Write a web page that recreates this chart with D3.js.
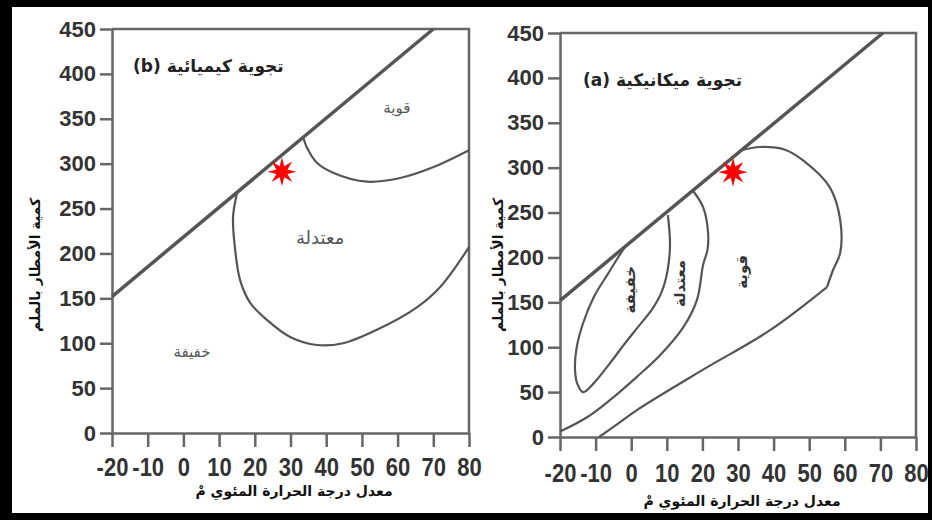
<!DOCTYPE html>
<html>
<head>
<meta charset="utf-8">
<script src="https://cdn.jsdelivr.net/npm/d3@7"></script>
<style>
  body { margin: 0; background: #fff; }
  .axis path, .axis line { stroke: #666; stroke-width: 2.5; }
  .axis text { font-family: "Liberation Sans", Arial, sans-serif; font-weight: bold; fill: #333; }
  .frame { stroke: #666; stroke-width: 2.5; fill: none; }
  .curve { fill: none; stroke: #555; stroke-width: 2.2; }
  .limit { fill: none; stroke: #555; stroke-width: 3.5; }
  .ar { font-family: "DejaVu Sans", sans-serif; }
</style>
</head>
<body>
<div id="chart"></div>
<script>
// axis ticks
var tempTicks = [-20, -10, 0, 10, 20, 30, 40, 50, 60, 70, 80];
var rainTicks = [0, 50, 100, 150, 200, 250, 300, 350, 400, 450];

// text
var xTitle = "معدل درجة الحرارة المئوي مْ";
var yTitle = "كمية الأمطار بالملم";
var chemTitle = "(b) تجوية كيميائية";
var mechTitle = "(a) تجوية ميكانيكية";

// (b) chemical weathering : [temp, rain]
var chemLimit = [[-20, 152], [70, 450]];
var chemStrong = [[33.5, 330], [34.6, 318], [37.4, 301], [41.9, 290], [51.4, 280], [60.7, 284], [69.9, 296], [80, 315]];
var chemModerate = [[15, 267], [13.9, 240], [14.5, 204], [15.9, 170], [18.7, 145], [23.4, 126], [29.9, 107], [37.4, 98],
                    [44.7, 100], [54.2, 115], [65.4, 140], [72, 163], [80, 207]];
var chemStar = [27.6, 291];
var chemLabels = [
  {name: "قوية", t: 59.8, r: 362, size: 15, rot: 0},
  {name: "معتدلة", t: 38.3, r: 217, size: 18, rot: 0},
  {name: "خفيفة", t: 2.4, r: 90, size: 15, rot: 0}
];

// (a) mechanical weathering
var mechLimit = [[-20, 152], [70.7, 450]];
var mechLight = [[-1.7, 212], [-4, 198], [-6.5, 182], [-10.5, 156], [-13.5, 127], [-15.3, 100], [-15.8, 78], [-15.2, 60], [-13.5, 50],
                 [-10.5, 60], [-6, 82], [-2, 103], [2, 123], [6, 143], [8.5, 161], [10.2, 185], [10.9, 215], [10.3, 247]];
var mechModerate = [[17.4, 274], [20.2, 256], [21.6, 227], [21.4, 208], [20.2, 192], [18.5, 153], [14.6, 122],
                    [8.1, 91], [1.6, 67], [-6, 41], [-12.4, 22], [-20, 6]];
var mechStrongArc = [[30.6, 319], [36.2, 323], [43.2, 320], [48.3, 308], [55.8, 278], [58.7, 242], [58.7, 205], [56.7, 186], [55, 167]];
var mechStrongTail = [[55, 167], [39, 119], [20.2, 75], [1.6, 30], [-4, 14], [-9, 0]];
var mechStar = [28.6, 295];
var mechLabels = [
  {name: "خفيفة", t: -0.3, r: 164, size: 15, rot: -90},
  {name: "معتدلة", t: 13.7, r: 171, size: 15, rot: -90},
  {name: "قوية", t: 31.1, r: 184, size: 15, rot: -90}
];

var W = 932, H = 520;

var svg = d3.select("#chart").append("svg")
  .attr("width", W)
  .attr("height", H);

// black outer frame
svg.append("rect").attr("width", W).attr("height", H).attr("fill", "#000");
svg.append("rect").attr("x", 12).attr("y", 7).attr("width", W - 16).attr("height", H - 14).attr("fill", "#fff");

var panels = [
  {x0: 112, x1: 469, y0: 433, y1: 29, xPad: 11, title: chemTitle, titleX: 133, titleY: 72, yTitleX: 40, xTitleX: 294, xTitleY: 496,
   limit: chemLimit, curves: [chemStrong, chemModerate], star: chemStar, labels: chemLabels, labelFill: "#555", labelWeight: "normal"},
  {x0: 560, x1: 916, y0: 437, y1: 33, xPad: 13, title: mechTitle, titleX: 583, titleY: 86, yTitleX: 503, xTitleX: 742, xTitleY: 506,
   limit: mechLimit, curves: [mechLight, mechModerate, mechStrongArc, mechStrongTail], star: mechStar, labels: mechLabels, labelFill: "#333", labelWeight: "bold"}
];

var starShape = d3.lineRadial().curve(d3.curveLinearClosed);
var starPts = d3.range(16).map(function(i) {
  return [i * Math.PI / 8, i % 2 ? 6 : 14.5];
});

panels.forEach(function(p) {
  var x = d3.scaleLinear().domain([-20, 80]).range([p.x0, p.x1]);
  var y = d3.scaleLinear().domain([0, 450]).range([p.y0, p.y1]);
  var g = svg.append("g");

  // frame top + right
  g.append("path").attr("class", "frame")
    .attr("d", "M" + p.x0 + "," + p.y1 + "H" + p.x1 + "V" + p.y0);

  g.append("g").attr("class", "axis")
    .attr("transform", "translate(" + p.x0 + ",0)")
    .call(d3.axisLeft(y).tickValues(rainTicks).tickSize(12).tickSizeOuter(0).tickPadding(4))
    .selectAll("text").style("font-size", "22px");

  g.append("g").attr("class", "axis")
    .attr("transform", "translate(0," + p.y0 + ")")
    .call(d3.axisBottom(x).tickValues(tempTicks).tickSize(14).tickSizeOuter(0).tickPadding(p.xPad)
      .tickFormat(function(d) { return String(d); }))
    .selectAll("text")
    .style("font-size", "25px")
    .attr("transform", "scale(0.88,1)");

  var line = d3.line()
    .x(function(d) { return x(d[0]); })
    .y(function(d) { return y(d[1]); });

  g.append("path").attr("class", "limit").attr("d", line(p.limit));

  line.curve(d3.curveCatmullRom);
  p.curves.forEach(function(c) {
    g.append("path").attr("class", "curve").attr("d", line(c));
  });

  g.append("path")
    .attr("d", starShape(starPts))
    .attr("transform", "translate(" + x(p.star[0]) + "," + y(p.star[1]) + ")")
    .attr("fill", "#f00");

  p.labels.forEach(function(l) {
    g.append("text").attr("class", "ar")
      .attr("transform", "translate(" + x(l.t) + "," + y(l.r) + ") rotate(" + l.rot + ")")
      .attr("text-anchor", "middle")
      .attr("dy", "0.35em")
      .style("font-size", l.size + "px")
      .style("font-weight", p.labelWeight)
      .attr("fill", p.labelFill)
      .text(l.name);
  });

  g.append("text").attr("class", "ar")
    .attr("x", p.titleX).attr("y", p.titleY)
    .style("font-size", "17px").style("font-weight", "bold")
    .attr("fill", "#222")
    .text(p.title);

  g.append("text").attr("class", "ar")
    .attr("transform", "translate(" + p.yTitleX + ",265) rotate(-90)")
    .attr("text-anchor", "middle")
    .style("font-size", "14px").style("font-weight", "bold")
    .attr("fill", "#111")
    .text(yTitle);

  g.append("text").attr("class", "ar")
    .attr("x", p.xTitleX).attr("y", p.xTitleY)
    .attr("text-anchor", "middle")
    .style("font-size", "14px").style("font-weight", "bold")
    .attr("fill", "#111")
    .text(xTitle);
});
</script>
</body>
</html>
